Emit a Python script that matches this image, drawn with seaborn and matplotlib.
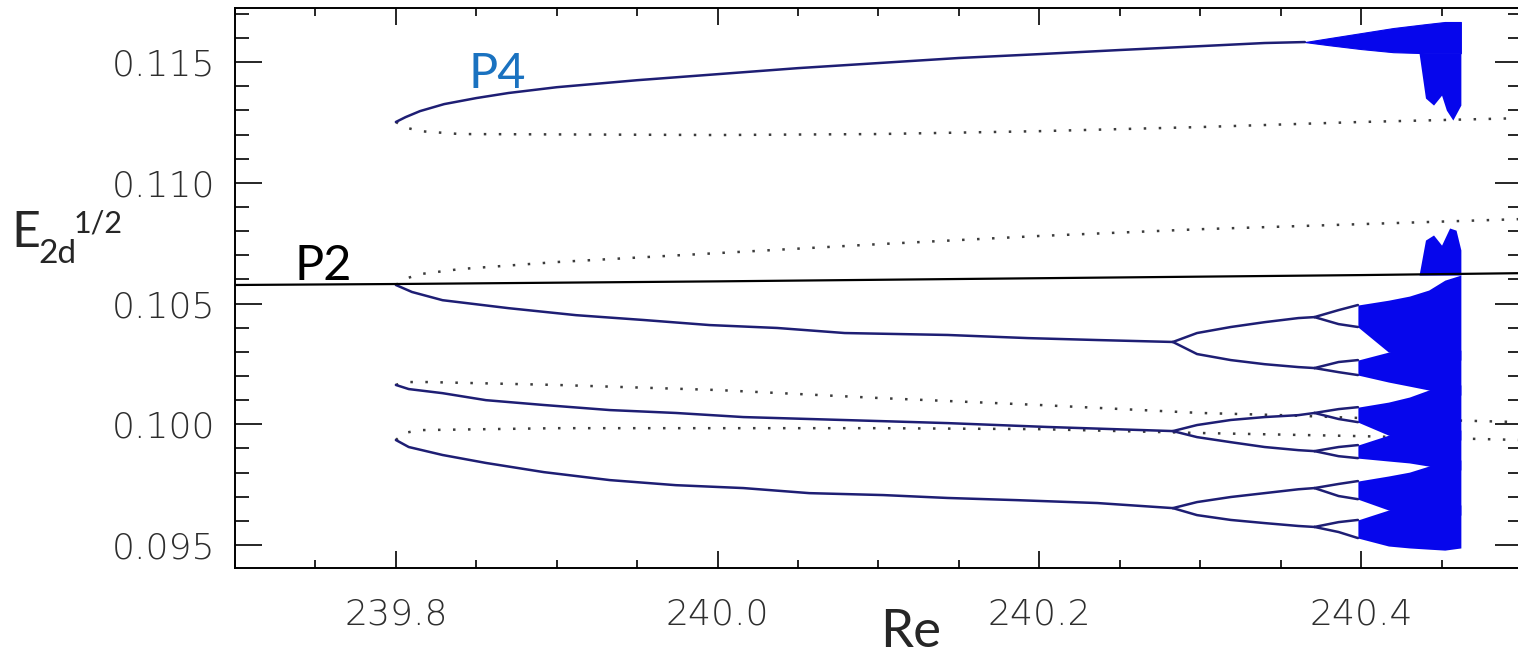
import matplotlib
matplotlib.use("Agg")
import matplotlib.pyplot as plt
from matplotlib.ticker import MultipleLocator, FormatStrFormatter
import numpy as np
import pandas as pd
import seaborn as sns

# ---------------- P2 orbit (black) ----------------
RE_P2 = [239.70, 239.80, 240.00, 240.20, 240.40, 240.50]
E_P2 = [0.10577, 0.10581, 0.10592, 0.10605, 0.10618, 0.10626]

# ---------------- stable P4 branches ----------------
RE_A = [239.800, 239.806, 239.815, 239.830, 239.850, 239.870, 239.900, 239.950,
        240.000, 240.050, 240.100, 240.150, 240.200, 240.250, 240.300, 240.340, 240.365]
E_A = [0.11252, 0.11272, 0.11297, 0.11326, 0.11351, 0.11372, 0.11396, 0.11425,
       0.11450, 0.11475, 0.11496, 0.11517, 0.11533, 0.11550, 0.11566, 0.11579, 0.11583]

RE_B = [239.800, 239.810, 239.829, 239.870, 239.912, 239.954, 239.995, 240.037,
        240.079, 240.143, 240.193, 240.236, 240.283]
E_B = [0.10577, 0.10548, 0.10514, 0.10481, 0.10452, 0.10432, 0.10411, 0.10399,
       0.10378, 0.10370, 0.10357, 0.10349, 0.10341]

RE_C = [239.800, 239.808, 239.829, 239.856, 239.892, 239.933, 239.974, 240.016,
        240.057, 240.103, 240.143, 240.205, 240.283]
E_C = [0.10163, 0.10146, 0.10129, 0.10100, 0.10080, 0.10059, 0.10047, 0.10030,
       0.10022, 0.10013, 0.10005, 0.09989, 0.09972]

RE_D = [239.800, 239.808, 239.829, 239.856, 239.892, 239.933, 239.974, 240.016,
        240.057, 240.103, 240.143, 240.186, 240.236, 240.283]
E_D = [0.09935, 0.09906, 0.09873, 0.09840, 0.09802, 0.09769, 0.09748, 0.09736,
       0.09715, 0.09707, 0.09695, 0.09686, 0.09674, 0.09653]

# ---------------- after the first period doubling (P8) ----------------
RE_P8 = [240.283, 240.298, 240.319, 240.340, 240.361, 240.371]
E_B1 = [0.10341, 0.10378, 0.10403, 0.10423, 0.10440, 0.10444]
E_B2 = [0.10341, 0.10291, 0.10266, 0.10249, 0.10237, 0.10233]
E_C1 = [0.09972, 0.09997, 0.10018, 0.10030, 0.10038, 0.10047]
E_C2 = [0.09972, 0.09947, 0.09926, 0.09906, 0.09893, 0.09889]
E_D1 = [0.09653, 0.09678, 0.09699, 0.09715, 0.09731, 0.09736]
E_D2 = [0.09653, 0.09624, 0.09604, 0.09591, 0.09579, 0.09575]

# ---------------- second doubling and chaotic bands ----------------
RE_BAND = [240.371, 240.386, 240.398, 240.417, 240.430, 240.442, 240.452, 240.462]
CHAOS_START = 240.398
B1_HI = [0.10444, 0.10473, 0.10494, 0.10514, 0.10531, 0.10556, 0.10597, 0.10618]
B1_LO = [0.10444, 0.10415, 0.10403, 0.10299, 0.10283, 0.10266, 0.10266, 0.10266]
B2_HI = [0.10233, 0.10258, 0.10266, 0.10299, 0.10307, 0.10307, 0.10307, 0.10307]
B2_LO = [0.10233, 0.10216, 0.10204, 0.10175, 0.10158, 0.10142, 0.10121, 0.10121]
C1_HI = [0.10047, 0.10063, 0.10071, 0.10092, 0.10113, 0.10142, 0.10163, 0.10163]
C1_LO = [0.10047, 0.10022, 0.10009, 0.09955, 0.09935, 0.09935, 0.09935, 0.09935]
C2_HI = [0.09889, 0.09906, 0.09914, 0.09955, 0.09976, 0.09976, 0.09976, 0.09976]
C2_LO = [0.09889, 0.09868, 0.09860, 0.09848, 0.09840, 0.09827, 0.09811, 0.09811]
D1_HI = [0.09736, 0.09753, 0.09765, 0.09786, 0.09802, 0.09827, 0.09852, 0.09852]
D1_LO = [0.09736, 0.09703, 0.09690, 0.09645, 0.09624, 0.09624, 0.09624, 0.09624]
D2_HI = [0.09575, 0.09595, 0.09604, 0.09645, 0.09666, 0.09666, 0.09666, 0.09666]
D2_LO = [0.09575, 0.09554, 0.09529, 0.09496, 0.09488, 0.09483, 0.09479, 0.09488]

RE_TOPBAND = [240.365, 240.380, 240.400, 240.420, 240.440, 240.452, 240.462]
TOP_HI = [0.11583, 0.11599, 0.11620, 0.11641, 0.11657, 0.11666, 0.11666]
TOP_LO = [0.11583, 0.11570, 0.11554, 0.11541, 0.11537, 0.11537, 0.11537]

# ragged spill-over of the attractor at the end of the window
RE_SPILL_TOP = [240.436, 240.440, 240.445, 240.450, 240.453, 240.457, 240.462]
SPILL_TOP_LO = [0.11537, 0.11351, 0.11322, 0.11363, 0.11301, 0.11260, 0.11322]
RE_SPILL_MID = [240.436, 240.440, 240.445, 240.450, 240.455, 240.459, 240.462]
SPILL_MID_HI = [0.10618, 0.10763, 0.10784, 0.10742, 0.10813, 0.10804, 0.10722]

# ---------------- unstable P4 branches (dotted) ----------------
RE_U1 = [239.800, 239.805, 239.815, 239.840, 240.000, 240.100, 240.200, 240.300, 240.400, 240.500]
E_U1 = [0.11252, 0.11231, 0.11214, 0.11202, 0.11198, 0.11202, 0.11214, 0.11231, 0.11252, 0.11268]
RE_U2 = [239.800, 239.805, 239.815, 239.840, 239.900, 240.000, 240.100, 240.200, 240.300, 240.400, 240.500]
E_U2 = [0.10577, 0.10601, 0.10622, 0.10643, 0.10672, 0.10709, 0.10746, 0.10780, 0.10808, 0.10829, 0.10850]
RE_U3 = [239.800, 239.805, 239.820, 239.900, 240.000, 240.100, 240.200, 240.300, 240.350, 240.400, 240.500]
E_U3 = [0.10163, 0.10175, 0.10175, 0.10163, 0.10142, 0.10109, 0.10080, 0.10047, 0.10038, 0.10026, 0.10009]
RE_U4 = [239.800, 239.805, 239.815, 239.900, 240.000, 240.100, 240.200, 240.300, 240.400, 240.500]
E_U4 = [0.09935, 0.09964, 0.09976, 0.09984, 0.09984, 0.09984, 0.09980, 0.09964, 0.09951, 0.09935]

NAVY = "#1e1e74"
BLUE = "#0606ec"
DOT = "#3c3c3c"
TICK_TEXT = "#2e2e2e"


def long_form(pairs):
    rows = []
    for name, xs, ys in pairs:
        for i, (x, y) in enumerate(zip(xs, ys)):
            rows.append({"branch": name, "order": i, "Re": x, "E": y})
    return pd.DataFrame(rows)


sns.set_theme(style="ticks")
plt.rcParams["font.family"] = ["DejaVu Sans"]

fig = plt.figure(figsize=(15.18, 6.56), dpi=100)
ax = fig.add_axes([235 / 1518, 88 / 656, (1522 - 235) / 1518, 560 / 656])

# unstable orbits
unstable = long_form([("U1", RE_U1, E_U1), ("U2", RE_U2, E_U2),
                      ("U3", RE_U3, E_U3), ("U4", RE_U4, E_U4)])
sns.lineplot(data=unstable, x="Re", y="E", units="branch", estimator=None, sort=False,
             color=DOT, lw=1.8, linestyle=(0, (1, 5)), ax=ax, zorder=1)

# chaotic bands
band_pairs = [(B1_HI, B1_LO), (B2_HI, B2_LO), (C1_HI, C1_LO),
              (C2_HI, C2_LO), (D1_HI, D1_LO), (D2_HI, D2_LO)]
re_band = np.array(RE_BAND)
for hi, lo in band_pairs:
    ax.fill_between(re_band, lo, hi, where=re_band >= CHAOS_START,
                    color=BLUE, lw=0, zorder=2)
ax.fill_between(RE_TOPBAND, TOP_LO, TOP_HI, color=BLUE, lw=0.8, edgecolor=BLUE, zorder=2)
ax.fill_between(RE_SPILL_TOP, SPILL_TOP_LO, [TOP_LO[-1]] * len(RE_SPILL_TOP),
                color=BLUE, lw=0, zorder=2)
ax.fill_between(RE_SPILL_MID, [E_P2[-2]] * len(RE_SPILL_MID), SPILL_MID_HI,
                color=BLUE, lw=0, zorder=2)

# stable branches: periodic part up to the onset of the chaotic bands
n_eye = RE_BAND.index(CHAOS_START) + 1
stable_pairs = [("A", RE_A, E_A), ("B", RE_B, E_B), ("C", RE_C, E_C), ("D", RE_D, E_D),
                ("B1", RE_P8, E_B1), ("B2", RE_P8, E_B2), ("C1", RE_P8, E_C1),
                ("C2", RE_P8, E_C2), ("D1", RE_P8, E_D1), ("D2", RE_P8, E_D2)]
for tag, (hi, lo) in zip(["B1", "B2", "C1", "C2", "D1", "D2"], band_pairs):
    stable_pairs.append((tag + "h", RE_BAND[:n_eye], hi[:n_eye]))
    stable_pairs.append((tag + "l", RE_BAND[:n_eye], lo[:n_eye]))
stable = long_form(stable_pairs)
sns.lineplot(data=stable, x="Re", y="E", units="branch", estimator=None, sort=False,
             color=NAVY, lw=1.8, ax=ax, zorder=3)

# P2 orbit
p2 = pd.DataFrame({"Re": RE_P2, "E": E_P2})
sns.lineplot(data=p2, x="Re", y="E", color="black", lw=1.6, ax=ax, zorder=4)

ax.set_xlim(239.7, 240.5)
ax.set_ylim(0.09405, 0.11724)
ax.set_xlabel("")
ax.set_ylabel("")

ax.xaxis.set_major_locator(MultipleLocator(0.2))
ax.xaxis.set_minor_locator(MultipleLocator(0.05))
ax.yaxis.set_major_locator(MultipleLocator(0.005))
ax.yaxis.set_minor_locator(MultipleLocator(0.001))
ax.xaxis.set_major_formatter(FormatStrFormatter("%.1f"))
ax.yaxis.set_major_formatter(FormatStrFormatter("%.3f"))

for s in ax.spines.values():
    s.set_linewidth(1.4)
    s.set_color("black")

ax.tick_params(axis="y", which="major", direction="in", length=19.5, width=1.4,
               left=True, right=True, labelsize=26, pad=14, labelcolor=TICK_TEXT)
ax.tick_params(axis="y", which="minor", direction="in", length=10, width=1.4,
               left=True, right=True)
ax.tick_params(axis="x", which="major", direction="in", length=12, width=1.4,
               bottom=True, top=True, labelsize=26, pad=21, labelcolor=TICK_TEXT)
ax.tick_params(axis="x", which="minor", direction="in", length=6, width=1.4,
               bottom=True, top=True)
for lab in ax.get_xticklabels() + ax.get_yticklabels():
    lab.set_fontweight(200)

# annotations
ax.text(239.845, 0.11392, "P4", color="#1a72c0", fontsize=35, family="Lato",
        va="baseline", ha="left")
ax.text(239.737, 0.10597, "P2", color="black", fontsize=35, family="Lato",
        va="baseline", ha="left")

fig.text(880 / 1518, 9 / 656, "Re", fontsize=38, family="Lato", va="baseline", ha="left")
fig.text(11 / 1518, 409 / 656, "E", fontsize=36, family="Lato", va="baseline", ha="left")
fig.text(38 / 1518, 393 / 656, "2d", fontsize=24, family="Lato", va="baseline", ha="left")
fig.text(74 / 1518, 424 / 656, "1/2", fontsize=22, family="Lato", va="baseline", ha="left")

fig.savefig("out.png", dpi=100)
